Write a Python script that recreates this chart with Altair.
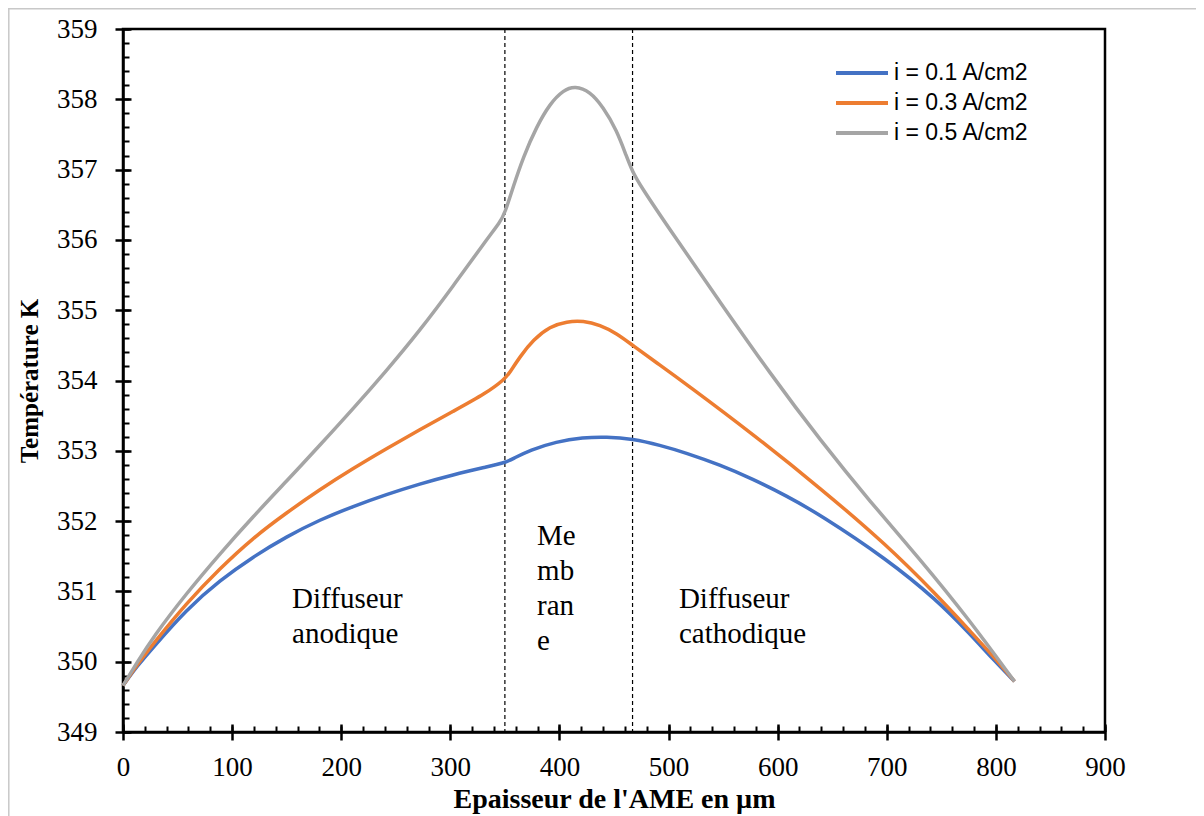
import altair as alt
import pandas as pd

# ---- data ----
series_names = ["i = 0.1 A/cm2", "i = 0.3 A/cm2", "i = 0.5 A/cm2"]
series_colors = ["#4472C4", "#ED7D31", "#A5A5A5"]

x_blue = [0, 12.5, 28, 58, 89, 119, 150, 180.5, 211, 241.5, 272, 302.5, 333, 350,
          357.7, 373, 397, 421.5, 443, 467, 492, 516, 547, 577, 608, 639, 700, 745.7, 776, 797.6, 817]
t_blue = [349.66, 349.93, 350.21, 350.74, 351.16, 351.49, 351.78, 352.02, 352.21, 352.38, 352.53, 352.66, 352.77, 352.83,
          352.89, 353.01, 353.13, 353.19, 353.20, 353.17, 353.08, 352.97, 352.80, 352.60, 352.36, 352.09, 351.46, 350.88, 350.40, 350.03, 349.72]

x_orange = [0, 12.5, 28, 58, 89, 119, 150, 180.5, 211, 241.5, 272, 302.5, 333, 350,
            354.7, 363.9, 376, 391.4, 406.7, 421.9, 437, 452.5, 467, 492, 516, 577, 639, 700, 745.7, 776, 797.6, 817]
t_orange = [349.66, 349.95, 350.26, 350.83, 351.33, 351.76, 352.12, 352.45, 352.75, 353.03, 353.30, 353.56, 353.82, 354.02,
            354.12, 354.34, 354.58, 354.77, 354.84, 354.85, 354.79, 354.67, 354.50, 354.22, 353.95, 353.24, 352.47, 351.66, 350.95, 350.44, 350.08, 349.72]

x_gray = [0, 12.5, 28, 58, 89, 119, 150, 180.5, 211, 241.5, 272, 302.5, 333, 345.5, 350,
          357.7, 366.9, 379, 391.4, 403.6, 414.3, 428, 440, 452.5, 461.6, 467,
          473.8, 501, 547, 593, 639, 685, 730.5, 776, 817]
t_gray = [349.66, 349.98, 350.36, 350.97, 351.54, 352.06, 352.57, 353.08, 353.60, 354.14, 354.71, 355.34, 356.00, 356.25, 356.38,
          356.76, 357.18, 357.61, 357.94, 358.13, 358.19, 358.11, 357.89, 357.56, 357.18, 356.97,
          356.78, 356.15, 355.12, 354.10, 353.15, 352.27, 351.46, 350.59, 349.72]

membrane_bounds = [350, 467]

ann_text = ["Diffuseur\nanodique", "Me\nmb\nran\ne", "Diffuseur\ncathodique"]
ann_x = [155, 379.5, 509.5]
ann_y = [350.76, 351.66, 350.76]

x_major = list(range(0, 901, 100))
x_minor = list(range(0, 901, 20))
y_major = list(range(349, 360))
y_minor = [round(349 + 0.2 * k, 1) for k in range(51)]

# ---- tables ----
rows = []
for name, xs_, ts_ in zip(series_names, [x_blue, x_orange, x_gray], [t_blue, t_orange, t_gray]):
    for a, b in zip(xs_, ts_):
        rows.append({"x": a, "T": b, "series": name})
df = pd.DataFrame(rows)
bounds_df = pd.DataFrame({"x": membrane_bounds})
ann_df = pd.DataFrame({"x": ann_x, "y": ann_y, "text": ann_text})

SERIF = "Liberation Serif"
xscale = alt.Scale(domain=[0, 900], nice=False)
yscale = alt.Scale(domain=[349, 359], nice=False, zero=False)

common = dict(grid=False, tickColor="black", domainColor="black")

main_x = alt.Axis(orient="bottom", values=x_major, title="Epaisseur de l'AME en µm",
                  titleFont=SERIF, titleFontWeight="bold", titleFontSize=28, titleColor="black",
                  titlePadding=5, labelFont=SERIF, labelFontSize=27, labelColor="black",
                  labelPadding=14, labelFlush=False, labelOverlap=False,
                  tickSize=8, tickWidth=2.5, domainWidth=2.5, **common)
main_y = alt.Axis(orient="left", values=y_major, format="d", title="Température K",
                  titleFont=SERIF, titleFontWeight="bold", titleFontSize=25, titleColor="black",
                  titlePadding=14, labelFont=SERIF, labelFontSize=27, labelColor="black",
                  labelPadding=18, labelFlush=False, labelOverlap=False,
                  tickSize=8, tickWidth=2.5, domainWidth=2.5, **common)
in_major_x = alt.Axis(orient="bottom", offset=-8, values=x_major, tickSize=8, tickWidth=2.5,
                      domain=False, labels=False, title=None, **common)
in_major_y = alt.Axis(orient="left", offset=-8, values=y_major, tickSize=8, tickWidth=2.5,
                      domain=False, labels=False, title=None, **common)
minor_x = alt.Axis(orient="bottom", offset=-6, values=x_minor, tickSize=6, tickWidth=2,
                   domain=False, labels=False, title=None, **common)
minor_y = alt.Axis(orient="left", offset=-6, values=y_minor, tickSize=6, tickWidth=2,
                   domain=False, labels=False, title=None, **common)

legend = alt.Legend(orient="none", legendX=711, legendY=31, title=None,
                    symbolType="stroke", symbolSize=2704, symbolStrokeWidth=4,
                    labelFont="Liberation Sans", labelFontSize=23, labelColor="black",
                    clipHeight=26, rowPadding=4, labelOffset=4)

frame_top = alt.Chart(pd.DataFrame({"a": [0]})).mark_rule(color="#c8c8c8", strokeWidth=1.5).encode(
    x=alt.value(-115), x2=alt.value(1200), y=alt.value(-20.2))
frame_left = alt.Chart(pd.DataFrame({"a": [0]})).mark_rule(color="#c8c8c8", strokeWidth=1.5).encode(
    x=alt.value(-114.2), y=alt.value(-21), y2=alt.value(900))

lines = alt.Chart(df).mark_line(strokeWidth=3.5, interpolate="basis").encode(
    x=alt.X("x:Q", scale=xscale, axis=main_x),
    y=alt.Y("T:Q", scale=yscale, axis=main_y),
    color=alt.Color("series:N", scale=alt.Scale(domain=series_names, range=series_colors), legend=legend),
)

dashes = alt.Chart(bounds_df).mark_rule(color="black", strokeWidth=1.2, strokeDash=[4, 3]).encode(
    x=alt.X("x:Q", scale=xscale, axis=in_major_x))

texts = alt.Chart(ann_df).mark_text(font=SERIF, fontSize=29, align="left", baseline="alphabetic",
                                    lineHeight=35, lineBreak="\n", color="black").encode(
    x=alt.X("x:Q", scale=xscale, axis=minor_x),
    y=alt.Y("y:Q", scale=yscale, axis=minor_y),
    text="text:N")

ghost = alt.Chart(df).mark_point(opacity=0).encode(
    x=alt.X("x:Q", scale=xscale, axis=None),
    y=alt.Y("T:Q", scale=yscale, axis=in_major_y))

chart = alt.layer(frame_top, frame_left, dashes, texts, ghost, lines).resolve_axis(
    x="independent", y="independent"
).properties(
    width=982, height=703,
    padding={"left": 115, "top": 21, "right": 91, "bottom": 84},
    autosize=alt.AutoSizeParams(type="none"),
    background="white",
).configure_view(stroke="black", strokeWidth=2.5)

chart.save("out.html", embed_options={"renderer": "svg", "actions": False})
